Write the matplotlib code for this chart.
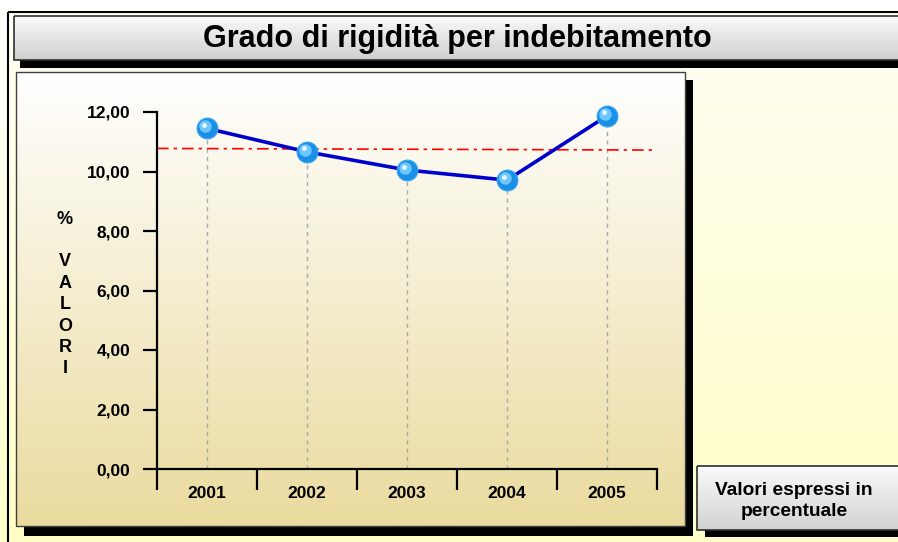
import numpy as np
import matplotlib
matplotlib.use("Agg")
import matplotlib.pyplot as plt
from matplotlib.patches import Rectangle
from matplotlib.colors import to_rgb
from matplotlib.transforms import ScaledTranslation

# ---- data ----
years = ["2001", "2002", "2003", "2004", "2005"]
values = [11.45, 10.66, 10.05, 9.71, 11.87]
yticks = [0, 2, 4, 6, 8, 10, 12]
ytick_labels = ["0,00", "2,00", "4,00", "6,00", "8,00", "10,00", "12,00"]
title = "Grado di rigidità per indebitamento"
note = "Valori espressi in\npercentuale"
ylabel = "%\n\nV\nA\nL\nO\nR\nI"

W, H = 898, 542
fig = plt.figure(figsize=(W / 100, H / 100), dpi=100)

BOLD = ["Liberation Sans", "DejaVu Sans"]

# background axes in pixel coordinates
bg = fig.add_axes([0, 0, 1, 1])
bg.set_axis_off()


def grad(x0, y0, x1, y1, c_top, c_bot, z):
    t = np.linspace(0, 1, 256)[:, None]
    a = np.array(to_rgb(c_top))
    b = np.array(to_rgb(c_bot))
    img = (a[None, None, :] * (1 - t[..., None]) + b[None, None, :] * t[..., None])
    img = np.repeat(img, 2, axis=1)
    bg.imshow(img, extent=[x0, x1, y1, y0], origin="upper", aspect="auto",
              zorder=z, interpolation="bilinear")


def rect(x0, y0, x1, y1, fc="none", ec="none", lw=0, z=1):
    bg.add_patch(Rectangle((x0, y0), x1 - x0, y1 - y0, facecolor=fc,
                           edgecolor=ec, linewidth=lw, zorder=z))


# page background
grad(0, 0, W, H, "#FFFFFF", "#FFFFC8", 0)
grad(8, 12, W + 5, H + 5, "#FFFEF4", "#FFFFC6", 0.5)
rect(8, 12, W + 5, H + 5, ec="#000000", lw=1.5, z=0.6)

# title box
rect(20, 24, W + 5, 68, fc="#000000", z=1)
grad(14, 16, W + 5, 60, "#FAFAFA", "#CFCFCF", 2)
rect(14, 16, W + 5, 60, ec="#303030", lw=1.2, z=3)
bg.text(457, 39, title, ha="center", va="center", fontsize=22,
        fontweight="bold", family=BOLD, color="#000000", zorder=4)

# chart panel
rect(24, 80, 693, 536, fc="#000000", z=1)
grad(16, 72, 685, 526, "#FFFFFF", "#EADB9E", 2)
rect(16, 72, 685, 526, ec="#404040", lw=1.0, z=3)

# note box
rect(705, 474, W + 5, 537, fc="#000000", z=1)
grad(697, 466, W + 5, 530, "#FAFAFA", "#D2D2D2", 2)
rect(697, 466, W + 5, 530, ec="#303030", lw=1.2, z=3)
bg.text(794, 501, note, ha="center", va="center", fontsize=13.8,
        fontweight="bold", family=BOLD, color="#000000", zorder=4,
        linespacing=1.38)

# y label stacked
bg.text(65, 294, ylabel, ha="center", va="center", fontsize=13,
        fontweight="bold", family=BOLD, color="#000000", zorder=4,
        linespacing=1.34)

bg.set_xlim(0, W)
bg.set_ylim(H, 0)

# ---- chart axes ----
ax = fig.add_axes([157 / W, 1 - 469 / H, 500 / W, 357 / H])
ax.set_facecolor("none")
x = np.arange(1, len(years) + 1)
ax.set_xlim(0.5, len(years) + 0.5)
ax.set_ylim(0, 12)

for s in ["top", "right"]:
    ax.spines[s].set_visible(False)
for s in ["left", "bottom"]:
    ax.spines[s].set_linewidth(1.6)
    ax.spines[s].set_color("#000000")

ax.set_yticks(yticks)
ax.set_yticklabels(ytick_labels, fontsize=12.5, fontweight="bold", family=BOLD)
ax.tick_params(axis="y", direction="out", length=10, width=1.6, pad=9)

ax.set_xticks(np.arange(0.5, len(years) + 1, 1))
ax.set_xticklabels([])
ax.tick_params(axis="x", which="major", direction="out", length=15, width=1.6)
ax.set_xticks(x, minor=True)
ax.set_xticklabels(years, minor=True, fontsize=12.5, fontweight="bold", family=BOLD)
ax.tick_params(axis="x", which="minor", length=0, pad=12)

# drop lines
ax.vlines(x, 0, values, colors="#A8A8A8", linestyles=(0, (3, 3)), lw=1.0, zorder=1)

# trend line
coef = np.polyfit(x, values, 1)
tx = np.array([0.5, len(years) + 0.5])
ax.plot(tx, np.polyval(coef, tx), color="#FF0000", lw=1.2,
        linestyle=(0, (7, 3, 2, 3)), zorder=2)

# main line
ax.plot(x, values, color="#0000CC", lw=2.6, zorder=3, solid_capstyle="round")

# sphere markers
ax.plot(x, values, "o", ms=15, mfc="#1A8FE6", mec="#3BA9F5", mew=0.8,
        zorder=4, clip_on=False)
off1 = ax.transData + ScaledTranslation(-2 / 100, 2 / 100, fig.dpi_scale_trans)
ax.plot(x, values, "o", ms=9, mfc="#6EC6FF", mec="none", zorder=5,
        clip_on=False, transform=off1)
off2 = ax.transData + ScaledTranslation(-3 / 100, 3.5 / 100, fig.dpi_scale_trans)
ax.plot(x, values, "o", ms=3.5, mfc="#E8F6FF", mec="none", zorder=6,
        clip_on=False, transform=off2)

fig.savefig("out.png", dpi=100)
